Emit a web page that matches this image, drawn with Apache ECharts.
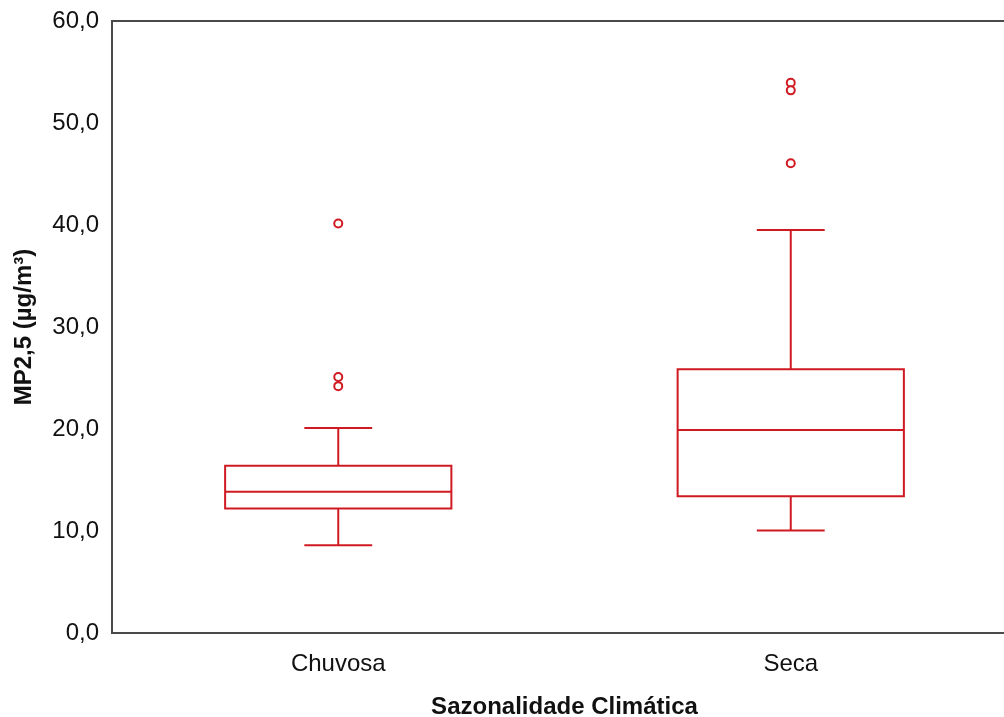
<!DOCTYPE html>
<html>
<head>
<meta charset="utf-8">
<script src="https://cdn.jsdelivr.net/npm/echarts@6/dist/echarts.min.js"></script>
<style>
html,body{margin:0;padding:0;background:#fff;}
#chart{width:1004px;height:717px;}
</style>
</head>
<body>
<div id="chart"></div>
<script>
const categories = ['Chuvosa', 'Seca'];
// [lower whisker, Q1, median, Q3, upper whisker]
const chuvosaBox = [8.6, 12.2, 13.85, 16.4, 20.1];
const secaBox = [10.05, 13.4, 19.9, 25.85, 39.5];
const chuvosaOutliers = [40.15, 25.1, 24.2];
const secaOutliers = [53.95, 53.2, 46.05];
const yTicks = [0, 10, 20, 30, 40, 50, 60];
const xTitle = 'Sazonalidade Climática';
const yTitle = 'MP2,5 (µg/m³)';

const RED = '#d01a22';
const FONT = '"Liberation Sans", Arial, sans-serif';
const TXT = '#111';

const boxData = [
  [0].concat(chuvosaBox),
  [1].concat(secaBox)
];
const outlierData = [];
chuvosaOutliers.forEach(v => outlierData.push([categories[0], v]));
secaOutliers.forEach(v => outlierData.push([categories[1], v]));

function renderBox(params, api) {
  const idx = api.value(0);
  const vals = [api.value(1), api.value(2), api.value(3), api.value(4), api.value(5)];
  const pts = vals.map(v => api.coord([idx, v]));
  const cx = pts[0][0];
  const band = api.size([1, 0])[0];
  const hw = band * 0.25;
  const cap = band * 0.075;
  const style = {stroke: RED, lineWidth: 2, fill: null};
  return {
    type: 'group',
    children: [
      {type: 'rect', shape: {x: cx - hw, y: pts[3][1], width: hw * 2, height: pts[1][1] - pts[3][1]}, style: {stroke: RED, lineWidth: 2, fill: 'rgba(0,0,0,0)'}},
      {type: 'line', shape: {x1: cx - hw, y1: pts[2][1], x2: cx + hw, y2: pts[2][1]}, style: style},
      {type: 'line', shape: {x1: cx, y1: pts[3][1], x2: cx, y2: pts[4][1]}, style: style},
      {type: 'line', shape: {x1: cx, y1: pts[1][1], x2: cx, y2: pts[0][1]}, style: style},
      {type: 'line', shape: {x1: cx - cap, y1: pts[4][1], x2: cx + cap, y2: pts[4][1]}, style: style},
      {type: 'line', shape: {x1: cx - cap, y1: pts[0][1], x2: cx + cap, y2: pts[0][1]}, style: style}
    ]
  };
}

const chart = echarts.init(document.getElementById('chart'), null, {renderer: 'canvas'});
chart.setOption({
  animation: false,
  backgroundColor: '#fff',
  grid: {
    left: 112, top: 21, width: 905, height: 612,
    outerBoundsMode: 'none', containLabel: false,
    show: true, borderColor: '#4a4a4a', borderWidth: 2, backgroundColor: 'transparent'
  },
  xAxis: {
    type: 'category',
    data: categories,
    boundaryGap: true,
    axisLine: {show: true, lineStyle: {color: '#4a4a4a', width: 2}},
    axisTick: {show: false},
    axisLabel: {fontSize: 24, color: TXT, fontFamily: FONT, margin: 19},
    splitLine: {show: false},
    name: xTitle,
    nameLocation: 'middle',
    nameGap: 62,
    nameTextStyle: {fontSize: 24, fontWeight: 'bold', color: TXT, fontFamily: FONT}
  },
  yAxis: {
    type: 'value',
    min: 0, max: 60, interval: 10,
    axisLine: {show: true, lineStyle: {color: '#4a4a4a', width: 2}},
    axisTick: {show: false},
    splitLine: {show: false},
    axisLabel: {
      fontSize: 24, color: TXT, fontFamily: FONT, margin: 13,
      formatter: v => yTicks.indexOf(v) >= 0 ? v.toFixed(1).replace('.', ',') : ''
    },
    name: yTitle,
    nameLocation: 'middle',
    nameGap: 76,
    nameRotate: 90,
    nameTextStyle: {fontSize: 24, fontWeight: 'bold', color: TXT, fontFamily: FONT}
  },
  series: [
    {
      type: 'custom',
      renderItem: renderBox,
      data: boxData,
      encode: {x: 0, y: [1, 2, 3, 4, 5]},
      z: 3
    },
    {
      type: 'scatter',
      data: outlierData,
      symbol: 'emptyCircle',
      symbolSize: 8,
      itemStyle: {color: RED, borderColor: RED, borderWidth: 2, opacity: 1},
      z: 4
    }
  ]
});
</script>
</body>
</html>
